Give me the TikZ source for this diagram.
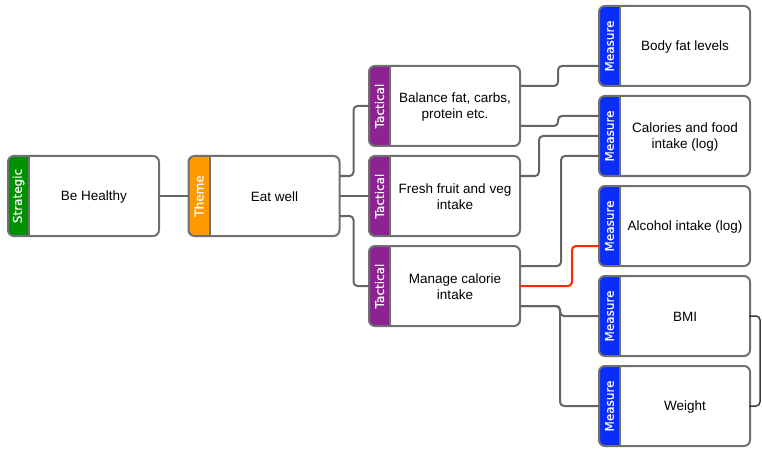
\documentclass[tikz,border=0pt]{standalone}
\usepackage{fontspec}
\setmainfont{Liberation Sans}
\newfontfamily\tabfont{DejaVu Sans}[FakeBold=0.4]
\usetikzlibrary{calc}
\definecolor{cStrat}{RGB}{0,145,0}
\definecolor{cTheme}{RGB}{255,153,0}
\definecolor{cTact}{RGB}{140,35,145}
\definecolor{cMeas}{RGB}{10,45,250}
\definecolor{cBorder}{RGB}{112,112,112}
\definecolor{cConn}{RGB}{100,100,100}
\definecolor{cRed}{RGB}{255,40,0}
\definecolor{cBrack}{RGB}{60,60,60}
\tikzset{
  box/.style={draw=none,fill=white,minimum width=151pt,minimum height=80pt,inner sep=0pt,outer sep=0pt},
  border/.style={draw=cBorder,line width=2pt},
  tablabel/.style={rotate=90,text=white,font=\tabfont\fontsize{12}{14}\selectfont,inner sep=0pt},
  maintext/.style={align=center,font=\fontsize{13.5}{16}\selectfont,inner sep=0pt},
  conn/.style={draw=cConn,line width=2pt,rounded corners=4pt},
  redconn/.style={draw=cRed,line width=2pt,rounded corners=4pt},
  brack/.style={draw=cBrack,line width=1.5pt,rounded corners=4pt},
}
\newcommand\kbox[6]{%
  \node[box] (#1) at (#2,#3) {};
  \begin{scope}
    \clip[rounded corners=6pt] (#1.south west) rectangle (#1.north east);
    \fill[#4] (#1.south west) rectangle ([xshift=21pt]#1.north west);
  \end{scope}
  \draw[border] ([xshift=21pt]#1.north west) -- ([xshift=21pt]#1.south west);
  \draw[border,rounded corners=6pt] (#1.south west) rectangle (#1.north east);
  \fill[cConn] ([xshift=25pt,yshift=0pt]#1.north west) rectangle ([xshift=28pt,yshift=1.3pt]#1.north west);
  \node[tablabel] (#1-l) at ([xshift=10.5pt]#1.west) {#5};
  \node[maintext] (#1-t) at ([xshift=10.5pt,yshift=-1pt]#1.center) {#6};
}
\begin{document}
\begin{tikzpicture}[x=1pt,y=-1pt]
\useasboundingbox (0,0) rectangle (762,449);
\kbox{s}{83.5}{196}{cStrat}{Strategic}{Be Healthy}
\kbox{th}{264}{196}{cTheme}{Theme}{Eat well}
\kbox{t1}{444.5}{106}{cTact}{Tactical}{Balance fat, carbs,\\protein etc.}
\kbox{t2}{444.5}{196}{cTact}{Tactical}{Fresh fruit and veg\\intake}
\kbox{t3}{444.5}{286}{cTact}{Tactical}{Manage calorie\\intake}
\kbox{m1}{674.5}{46}{cMeas}{Measure}{Body fat levels}
\kbox{m2}{674.5}{136}{cMeas}{Measure}{Calories and food\\intake (log)}
\kbox{m3}{674.5}{226}{cMeas}{Measure}{Alcohol intake (log)}
\kbox{m4}{674.5}{316}{cMeas}{Measure}{BMI}
\kbox{m5}{674.5}{406}{cMeas}{Measure}{Weight}
% connectors
\draw[conn] (s.east) -- (th.west);
\draw[conn] ([yshift=20pt]th.east) -- ++(14,0) |- (t1.west);
\draw[conn] (th.east) -- (t2.west);
\draw[conn] ([yshift=-20pt]th.east) -- ++(14,0) |- (t3.west);
\draw[conn] ([yshift=20pt]t1.east) -- ++(38,0) |- ([yshift=-20pt]m1.west);
\draw[conn] ([yshift=-20pt]t1.east) -- ++(38,0) |- ([yshift=20pt]m2.west);
\draw[conn] ([yshift=20pt]t2.east) -- ++(19,0) |- (m2.west);
\draw[conn] ([yshift=20pt]t3.east) -- ++(41,0) |- ([yshift=-20pt]m2.west);
\draw[redconn] (t3.east) -- ++(52,0) |- ([yshift=-20pt]m3.west);
\draw[conn] ([yshift=-20pt]t3.east) -- ++(40,0) |- (m4.west);
\draw[conn] ([yshift=-20pt]t3.east) -- ++(40,0) |- (m5.west);
\draw[brack] ([xshift=-1pt]m4.east) -- ++(11,0) |- ([xshift=-1pt]m5.east);
\end{tikzpicture}
\end{document}
